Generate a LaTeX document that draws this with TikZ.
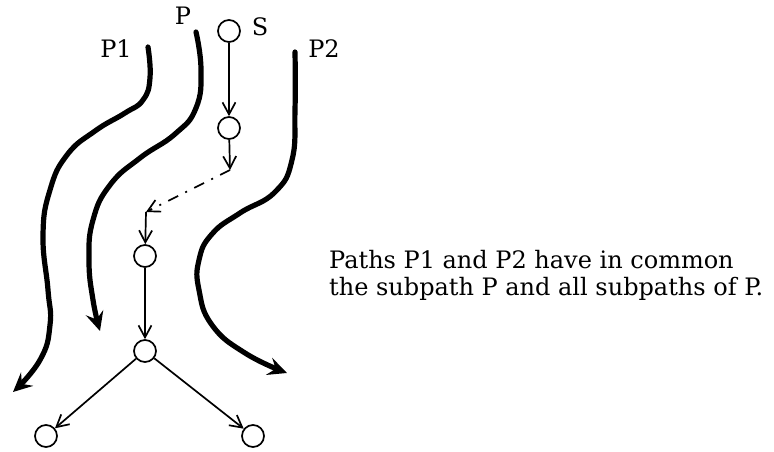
\documentclass[tikz,border=0pt]{standalone}
\usepackage{fontspec}
\setmainfont{DejaVu Serif}
\usetikzlibrary{arrows.meta}
\begin{document}
\begin{tikzpicture}[x=1pt,y=-1pt,
  vtx/.style={circle,draw,line width=1.7pt,minimum size=22pt,inner sep=0pt},
  edge/.style={line width=1.7pt,-{Straight Barb[length=12pt,width=13pt,line width=1.7pt]}},
  thickpath/.style={line width=5.2pt,line cap=round,-{Stealth[length=19pt,width=18pt,inset=7pt]}},
  lbl/.style={font=\fontsize{24}{27}\selectfont,inner sep=0pt}]
\useasboundingbox (0,0) rectangle (774,452);
% vertices
\node[vtx] (s) at (229,31) {};
\node[vtx] (a) at (229,128) {};
\coordinate (b) at (230,170);
\coordinate (c) at (146,212);
\node[vtx] (d) at (145,256) {};
\node[vtx] (e) at (145,351) {};
\node[vtx] (l) at (46,436) {};
\node[vtx] (r) at (253,436) {};
% edges
\draw[edge] (s) -- (a);
\draw[edge] (a) -- (b);
\draw[edge,dash pattern=on 11pt off 8pt on 2pt off 8pt] (b) -- (c);
\draw[edge] (c) -- (d);
\draw[edge] (d) -- (e);
\draw[edge] (e) -- (l);
\draw[edge] (e) -- (r);
% thick paths
\draw[thickpath] plot[smooth,tension=0.8] coordinates {(148,47) (150,78) (143,100) (125,113) (95,131) (67,155) (50,190) (43,235) (48,290) (50,325) (40,360) (13,392)};
\draw[thickpath] plot[smooth,tension=0.8] coordinates {(196,32) (201,70) (196,108) (175,134) (140,158) (110,185) (93,220) (89,260) (93,300) (100,331)};
\draw[thickpath] plot[smooth,tension=0.8] coordinates {(295,52) (295,110) (292,160) (275,192) (240,213) (212,234) (199,260) (199,290) (212,325) (245,353) (287,373)};
% labels
\node[lbl] (tp1) at (116,49) {P1};
\node[lbl] (tp) at (183,16) {P};
\node[lbl] (ts) at (260,27) {S};
\node[lbl] (tp2) at (324,49) {P2};
\node[lbl,anchor=west,align=left] (txt) at (329,275) {Paths P1 and P2 have in common\\the subpath P and all subpaths of P.};
\end{tikzpicture}
\end{document}
